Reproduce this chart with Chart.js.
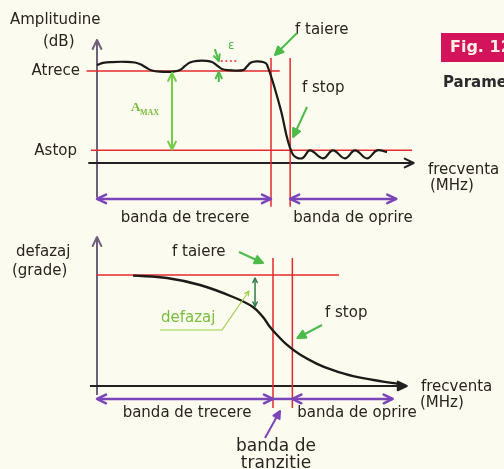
<!DOCTYPE html>
<html>
<head>
<meta charset="utf-8">
<script src="https://cdn.jsdelivr.net/npm/chart.js@4"></script>
<style>
  html, body { margin: 0; padding: 0; background: #fcfbef; }
  #wrap { position: relative; width: 504px; height: 469px; overflow: hidden; }
  canvas { position: absolute; left: 0; }
  #amp { top: 0; }
  #faz { top: 232px; }
</style>
</head>
<body>
<div id="wrap">
  <canvas id="amp" width="504" height="232"></canvas>
  <canvas id="faz" width="504" height="237"></canvas>
</div>
<script>
// === DATA ===
// frequencies in the same units on both plots
const fTaiere = 10;
const fStop = 11.1;

// amplitude (dB above axis), ripple in pass band and stop band
const aTrece = 40;
const aStop = 5.5;
const ampFreq = [0, 0.34, 0.86, 1.61, 2.18, 2.53, 2.82, 3.16, 3.62, 4.37, 4.77, 5.06, 5.34, 5.8, 6.26, 6.61, 6.9, 7.18, 7.53,
  8.39, 8.62, 8.85, 9.2, 9.54, 9.77, 10.52, 11.21, 11.78, 12.24, 12.99, 13.56, 14.25, 14.83, 15.52, 16.09, 16.67];
const ampDb = [42.6, 43.5, 43.9, 44.0, 43.7, 42.8, 41.5, 40.2, 39.7, 39.7, 40.4, 42.2, 43.7, 44.4, 44.4, 43.9, 42.4, 40.9, 40.4,
  40.4, 42.0, 43.7, 44.2, 43.9, 42.8, 24.3, 4.3, 2.0, 5.5, 2.0, 5.5, 2.0, 5.5, 2.0, 5.5, 4.8];
const rippleTop = 44.3;

// phase (grade)
const fazStart = 90;
const fazFreq = [2.05, 3.98, 5.85, 7.73, 8.86, 9.43, 9.83, 10.23, 10.8, 11.53, 12.5, 13.41, 14.55, 16.25, 17.22];
const fazDeg = [89.5, 87.6, 81.9, 72.2, 64.1, 56.0, 47.8, 41.4, 33.3, 25.5, 18.0, 12.8, 8.0, 3.6, 1.6];

// === COLOURS ===
const RED = '#e42a2c';
const PURPLE = '#7a45b8';
const AXIS = '#6e607a';
const GREEN = '#4dbb4a';
const INK = '#2a2420';
const FONT = '"DejaVu Sans", Verdana, sans-serif';

// === DRAW HELPERS ===
function seg(ctx, x1, y1, x2, y2, color, width, dash) {
  ctx.save();
  ctx.strokeStyle = color;
  ctx.lineWidth = width;
  if (dash) ctx.setLineDash(dash);
  ctx.beginPath();
  ctx.moveTo(x1, y1);
  ctx.lineTo(x2, y2);
  ctx.stroke();
  ctx.restore();
}

function head(ctx, x1, y1, x2, y2, color, width, size, filled) {
  const a = Math.atan2(y2 - y1, x2 - x1);
  ctx.save();
  ctx.strokeStyle = color;
  ctx.fillStyle = color;
  ctx.lineWidth = width;
  ctx.lineCap = 'round';
  ctx.lineJoin = 'round';
  ctx.beginPath();
  ctx.moveTo(x2 - size * Math.cos(a - 0.45), y2 - size * Math.sin(a - 0.45));
  ctx.lineTo(x2, y2);
  ctx.lineTo(x2 - size * Math.cos(a + 0.45), y2 - size * Math.sin(a + 0.45));
  if (filled) { ctx.closePath(); ctx.fill(); }
  ctx.stroke();
  ctx.restore();
}

function arrow(ctx, x1, y1, x2, y2, color, width, size, both, filled) {
  seg(ctx, x1, y1, x2, y2, color, width);
  head(ctx, x1, y1, x2, y2, color, width, size, filled);
  if (both) head(ctx, x2, y2, x1, y1, color, width, size, filled);
}

function txt(ctx, s, x, y, opt) {
  opt = opt || {};
  ctx.save();
  ctx.font = (opt.weight || '') + ' ' + (opt.size || 15) + 'px ' + (opt.family || FONT);
  ctx.fillStyle = opt.color || INK;
  ctx.textAlign = opt.align || 'left';
  ctx.textBaseline = 'middle';
  ctx.fillText(s, x, y);
  ctx.restore();
}

// === AMPLITUDE PLOT ===
const ampDecor = {
  id: 'ampDecor',
  beforeDatasetsDraw(chart) {
    const ctx = chart.ctx;
    const X = v => chart.scales.x.getPixelForValue(v);
    const Y = v => chart.scales.y.getPixelForValue(v);
    // axes
    arrow(ctx, X(0), Y(-15), X(0), Y(53.5), AXIS, 2, 10);
    arrow(ctx, X(-0.5), Y(0), X(18.2), Y(0), '#222', 2, 10);
    // levels
    seg(ctx, X(-0.6), Y(aTrece), X(10.5), Y(aTrece), RED, 1.5);
    seg(ctx, X(-0.35), Y(aStop), X(18.1), Y(aStop), RED, 1.5);
    seg(ctx, X(fTaiere), Y(45.6), X(fTaiere), Y(-19), RED, 1.5);
    seg(ctx, X(fStop), Y(45.6), X(fStop), Y(-19), RED, 1.5);
  },
  afterDatasetsDraw(chart) {
    const ctx = chart.ctx;
    const X = v => chart.scales.x.getPixelForValue(v);
    const Y = v => chart.scales.y.getPixelForValue(v);
    // bands
    arrow(ctx, X(0), Y(-15.6), X(fTaiere), Y(-15.6), PURPLE, 2.5, 10, true);
    arrow(ctx, X(fStop), Y(-15.6), X(17.2), Y(-15.6), PURPLE, 2.5, 10, true);
    txt(ctx, 'banda de trecere', (X(0) + X(fTaiere)) / 2 + 1, Y(-23.9), { align: 'center' });
    txt(ctx, 'banda de oprire', 353, Y(-23.9), { align: 'center' });
    // A max
    arrow(ctx, X(4.31), Y(39.2), X(4.31), Y(aStop + 0.3), '#74cc48', 2, 9, true);
    txt(ctx, 'A', 131, 108, { size: 13, weight: 'bold', family: '"Liberation Serif", serif', color: '#76bd3a' });
    txt(ctx, 'MAX', 140, 113, { size: 8, weight: 'bold', family: '"Liberation Serif", serif', color: '#76bd3a' });
    // epsilon ripple
    const ex = X(7.0);
    arrow(ctx, ex - 4, Y(rippleTop) - 12, ex, Y(rippleTop), GREEN, 2, 7);
    arrow(ctx, ex, Y(aTrece) + 11, ex, Y(aTrece) + 1, GREEN, 2, 7);
    seg(ctx, ex + 2, Y(rippleTop), X(8.1), Y(rippleTop), RED, 1.5, [2, 2.5]);
    txt(ctx, 'ε', 228, 46, { size: 12, color: GREEN });
    // axis labels
    txt(ctx, 'Amplitudine', 10, 20);
    txt(ctx, '(dB)', 43, 42);
    txt(ctx, 'Atrece', 80, Y(aTrece), { align: 'right' });
    txt(ctx, 'Astop', 77, Y(aStop) + 1, { align: 'right' });
    txt(ctx, 'frecventa', 428, 170);
    txt(ctx, '(MHz)', 430, 186);
    // cut-off labels
    txt(ctx, 'f taiere', 295, 30);
    arrow(ctx, 297, 33, X(fTaiere) + 4, 55, GREEN, 2, 9, false, true);
    txt(ctx, 'f stop', 302, 88);
    arrow(ctx, 307, 107, X(fStop) + 3, 137, GREEN, 2, 9, false, true);
    // page furniture
    ctx.save();
    ctx.fillStyle = '#d3145a';
    ctx.fillRect(441, 33, 70, 29);
    ctx.restore();
    txt(ctx, 'Fig. 12', 450, 48, { size: 16, weight: 'bold', color: '#fbeee6' });
    txt(ctx, 'Parametri', 443, 83, { size: 15, weight: 'bold', color: '#2b2a2a' });
  }
};

new Chart(document.getElementById('amp'), {
  type: 'line',
  data: {
    datasets: [{
      data: ampFreq.map((f, i) => ({ x: f, y: ampDb[i] })),
      borderColor: '#1e1a18',
      borderWidth: 2.2,
      pointRadius: 0,
      tension: 0.4,
      fill: false
    }]
  },
  options: {
    responsive: false,
    animation: false,
    layout: { padding: 0 },
    plugins: { legend: { display: false }, tooltip: { enabled: false } },
    scales: {
      x: { type: 'linear', min: -5.575, max: 23.39, display: false },
      y: { type: 'linear', min: -30, max: 70.87, display: false }
    }
  },
  plugins: [ampDecor]
});

// === PHASE PLOT ===
const fazDecor = {
  id: 'fazDecor',
  beforeDatasetsDraw(chart) {
    const ctx = chart.ctx;
    const X = v => chart.scales.x.getPixelForValue(v);
    const Y = v => chart.scales.y.getPixelForValue(v);
    arrow(ctx, X(0), Y(-7.3), X(0), Y(120.8), AXIS, 2, 10);
    arrow(ctx, X(-0.4), Y(0), X(17.6), Y(0), '#222', 2, 10, false, true);
    seg(ctx, X(0), Y(fazStart), X(13.75), Y(fazStart), RED, 1.5);
    seg(ctx, X(fTaiere), Y(103.8), X(fTaiere), Y(-17.8), RED, 1.5);
    seg(ctx, X(fStop), Y(103.8), X(fStop), Y(-17.8), RED, 1.5);
  },
  afterDatasetsDraw(chart) {
    const ctx = chart.ctx;
    const X = v => chart.scales.x.getPixelForValue(v);
    const Y = v => chart.scales.y.getPixelForValue(v);
    // bands
    arrow(ctx, X(0), Y(-10.5), X(fTaiere), Y(-10.5), PURPLE, 2.5, 10, true);
    arrow(ctx, X(fStop), Y(-10.5), X(16.8), Y(-10.5), PURPLE, 2.5, 10, true);
    seg(ctx, X(fTaiere), Y(-10.5), X(fStop), Y(-10.5), PURPLE, 2.5);
    txt(ctx, 'banda de trecere', 187, 181, { align: 'center' });
    txt(ctx, 'banda de oprire', 357, 181, { align: 'center' });
    // transition band
    arrow(ctx, 265, 206, 280, 179, PURPLE, 2, 8, false, true);
    txt(ctx, 'banda de', 276, 215, { size: 17, align: 'center' });
    txt(ctx, 'tranzitie', 276, 232, { size: 17, align: 'center' });
    // phase shift marker
    arrow(ctx, X(8.98), Y(fazStart) + 3, X(8.98), Y(64.5), '#2f7a4f', 1.5, 5, true);
    txt(ctx, 'defazaj', 161, 86, { color: '#79bd3e' });
    seg(ctx, 160, 98, 222, 98, '#9ccf4a', 1.2);
    arrow(ctx, 222, 98, 249, 59, '#9ccf4a', 1.2, 5);
    // axis labels
    txt(ctx, 'defazaj', 16, 20);
    txt(ctx, '(grade)', 12, 39);
    txt(ctx, 'frecventa', 421, 155);
    txt(ctx, '(MHz)', 420, 171);
    // cut-off labels
    txt(ctx, 'f taiere', 172, 20);
    arrow(ctx, 239, 20, X(fTaiere) - 10, 31, GREEN, 2, 9, false, true);
    txt(ctx, 'f stop', 325, 81);
    arrow(ctx, 322, 93, X(fStop) + 5, 106, GREEN, 2, 9, false, true);
  }
};

new Chart(document.getElementById('faz'), {
  type: 'line',
  data: {
    datasets: [{
      data: fazFreq.map((f, i) => ({ x: f, y: fazDeg[i] })),
      borderColor: '#1e1a18',
      borderWidth: 2.4,
      pointRadius: 0,
      tension: 0.4,
      fill: false
    }]
  },
  options: {
    responsive: false,
    animation: false,
    layout: { padding: 0 },
    plugins: { legend: { display: false }, tooltip: { enabled: false } },
    scales: {
      x: { type: 'linear', min: -5.511, max: 23.125, display: false },
      y: { type: 'linear', min: -67.3, max: 124.9, display: false }
    }
  },
  plugins: [fazDecor]
});
</script>
</body>
</html>
